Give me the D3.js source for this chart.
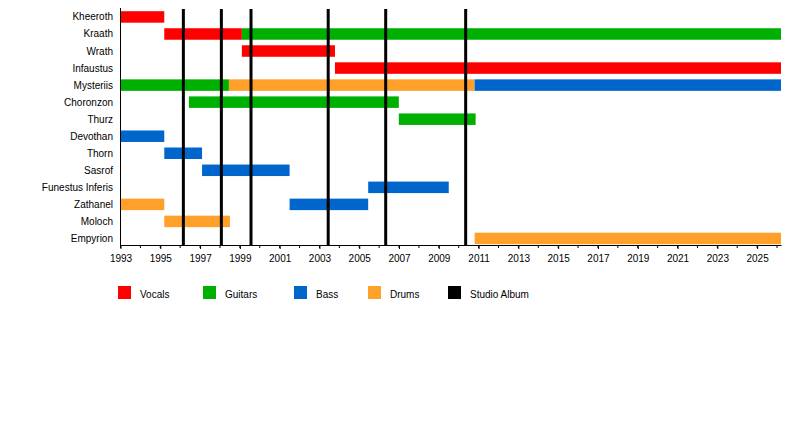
<!DOCTYPE html>
<html><head><meta charset="utf-8">
<script src="https://cdn.jsdelivr.net/npm/d3@7"></script>
<style>body{margin:0;background:#fff}text{font-family:"Liberation Sans",Arial,sans-serif;font-size:10px;fill:#000}</style>
</head><body><svg id="c" width="800" height="424"></svg>
<script>
const members = ["Kheeroth","Kraath","Wrath","Infaustus","Mysteriis","Choronzon","Thurz","Devothan","Thorn","Sasrof","Funestus Inferis","Zathanel","Moloch","Empyrion"];
const roles = ["Vocals","Guitars","Bass","Drums"];
const roleColors = ["#ff0000","#00b000","#0066cc","#ffa02a"];
const endYear = 2026.2;
// [member, role, start, end]
const spans = [
  ["Kheeroth","Vocals",1993,1995.2],
  ["Kraath","Vocals",1995.2,1999.1],
  ["Kraath","Guitars",1999.1,endYear],
  ["Wrath","Vocals",1999.1,2003.78],
  ["Infaustus","Vocals",2003.78,endYear],
  ["Mysteriis","Guitars",1993,1998.45],
  ["Mysteriis","Drums",1998.45,2010.8],
  ["Mysteriis","Bass",2010.8,endYear],
  ["Choronzon","Guitars",1996.44,2006.99],
  ["Thurz","Guitars",2006.99,2010.85],
  ["Devothan","Bass",1993,1995.2],
  ["Thorn","Bass",1995.2,1997.1],
  ["Sasrof","Bass",1997.1,2001.5],
  ["Funestus Inferis","Bass",2005.45,2009.5],
  ["Zathanel","Drums",1993,1995.2],
  ["Zathanel","Bass",2001.5,2005.45],
  ["Moloch","Drums",1995.2,1998.5],
  ["Empyrion","Drums",2010.8,endYear]
];
const albums = [1996.16,1998.07,1999.56,2003.44,2006.33,2010.35];
const tickYears = d3.range(1993,2026,2);
const minorYears = d3.range(1993,2027,1);
const legendLabels = roles.concat(["Studio Album"]);
const legendColors = roleColors.concat(["#000"]);

const legendX = [118,203,294,368,448];

const svg = d3.select("#c");
const x = d3.scaleLinear().domain([1993,endYear]).range([120.5,781]);
const y = d3.scaleBand().domain(members).range([11.2,244.2]).paddingInner(0.325).paddingOuter(0);
const color = d3.scaleOrdinal().domain(roles).range(roleColors);

svg.append("g").selectAll("rect").data(spans).join("rect")
  .attr("x",d=>x(d[2])).attr("width",d=>x(d[3])-x(d[2]))
  .attr("y",d=>y(d[0])).attr("height",y.bandwidth())
  .attr("fill",d=>color(d[1]));

svg.append("g").selectAll("line").data(albums).join("line")
  .attr("x1",d=>x(d)).attr("x2",d=>x(d)).attr("y1",9).attr("y2",245)
  .attr("stroke","#000").attr("stroke-width",3);

svg.append("g").selectAll("text").data(members).join("text")
  .attr("x",113).attr("y",d=>y(d)+y.bandwidth()/2).attr("dy","0.35em")
  .attr("text-anchor","end").text(d=>d);

svg.append("line").attr("x1",120.5).attr("x2",120.5).attr("y1",8).attr("y2",245).attr("stroke","#000");

const ax = svg.append("g").attr("transform","translate(0,245)");
ax.call(d3.axisBottom(x).tickValues(tickYears).tickFormat(d3.format("d")).tickSize(4).tickSizeOuter(0).tickPadding(6));
ax.append("g").selectAll("line").data(minorYears).join("line")
  .attr("x1",d=>x(d)).attr("x2",d=>x(d)).attr("y1",0).attr("y2",3).attr("stroke","#000");
ax.select(".domain").attr("stroke","#000");
ax.selectAll(".tick text").style("font-family","Liberation Sans, Arial, sans-serif").style("font-size","10px").attr("fill","#000");

const lg = svg.append("g").selectAll("g").data(legendLabels).join("g")
  .attr("transform",(d,i)=>`translate(${legendX[i]},286)`);
lg.append("rect").attr("width",13).attr("height",13).attr("fill",(d,i)=>legendColors[i]);
lg.append("text").attr("x",22).attr("y",11.5).text(d=>d);
</script></body></html>
